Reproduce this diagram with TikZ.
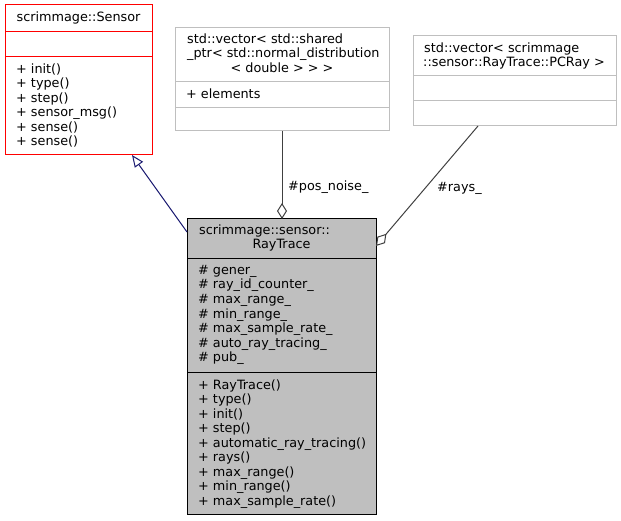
\documentclass[tikz,border=0pt]{standalone}
\usepackage{fontspec}
\setmainfont{DejaVu Sans}
\usetikzlibrary{arrows.meta,calc}
\definecolor{grey75}{HTML}{BFBFBF}
\definecolor{grey25}{HTML}{404040}
\definecolor{midnightblue}{HTML}{191970}
\begin{document}
\begin{tikzpicture}[x=1pt,y=-1pt,
  box/.style={draw,line width=1pt,inner sep=0pt,outer sep=0pt,anchor=north west},
  plainbox/.style={box,draw=grey75,fill=white},
  txt/.style={inner sep=0pt,anchor=base west,font=\fontsize{12.8}{14.5}\selectfont},
  ctxt/.style={txt,anchor=base},
  inherit/.style={draw=midnightblue,line width=1pt,-{Triangle[open,length=12pt,width=10pt]}},
  usage/.style={draw=grey25,line width=1pt,-{Diamond[open,length=16pt,width=10pt]}},
]
\path[use as bounding box] (0,0) rectangle (621,521);

% base class
\node[box,draw=red,minimum width=147pt,minimum height=150pt] (sensor) at (5,5) {};
\draw[red,line width=1pt] (5,32) -- (152,32) (5,57) -- (152,57);
\node[ctxt] (sensortitle) at (78.5,22) {scrimmage::Sensor};
\foreach \t [count=\i from 0] in {+ init(),+ type(),+ step(),+ sensor\_msg(),+ sense(),+ sense()}
  \node[txt] (sensorop\i) at (16,73.5+14.5*\i) {\t};

% noise container
\node[plainbox,minimum width=214pt,minimum height=103pt] (vecnoise) at (175,28) {};
\draw[grey75,line width=1pt] (175,82) -- (389,82) (175,108) -- (389,108);
\node[txt] (vecnoiseA) at (187,43.5) {std::vector< std::shared};
\node[txt] (vecnoiseB) at (187,58) {\_ptr< std::normal\_distribution};
\node[ctxt] (vecnoiseC) at (282,72.5) {< double > > >};
\node[txt] (vecnoiseattr) at (186,98.5) {+ elements};

% ray container
\node[plainbox,minimum width=203pt,minimum height=90pt] (vecrays) at (413,36) {};
\draw[grey75,line width=1pt] (413,76) -- (616,76) (413,101) -- (616,101);
\node[txt] (vecraysA) at (424,52.5) {std::vector< scrimmage};
\node[txt] (vecraysB) at (423,67) {::sensor::RayTrace::PCRay >};

% RayTrace class
\node[box,draw=black,fill=grey75,minimum width=189pt,minimum height=295pt] (rt) at (187,219) {};
\draw[black,line width=1pt] (187,259) -- (376,259) (187,372) -- (376,372);
\node[txt] (rttitleA) at (199,234.5) {scrimmage::sensor::};
\node[ctxt] (rttitleB) at (281.5,249) {RayTrace};
\foreach \t [count=\i from 0] in {\# gener\_,\# ray\_id\_counter\_,\# max\_range\_,\# min\_range\_,\# max\_sample\_rate\_,\# auto\_ray\_tracing\_,\# pub\_}
  \node[txt] (rtattr\i) at (198,274.5+14.5*\i) {\t};
\foreach \t [count=\i from 0] in {+ RayTrace(),+ type(),+ init(),+ step(),+ automatic\_ray\_tracing(),+ rays(),+ max\_range(),+ min\_range(),+ max\_sample\_rate()}
  \node[txt] (rtop\i) at (198,389+14.5*\i) {\t};

% relations
\draw[inherit] ($(rt.north west)+(0,13)$) -- ($(sensor.south west)+(127,0)$);
\draw[usage] (vecnoise.south) -- (vecnoise.south |- rt.north);
\node[txt] (posnoiselbl) at (288,191) {\#pos\_noise\_};
\draw[usage] ($(vecrays.south west)+(65,0)$) -- ($(rt.north east)+(0,27)$);
\node[txt] (rayslbl) at (437,192) {\#rays\_};
\end{tikzpicture}
\end{document}
